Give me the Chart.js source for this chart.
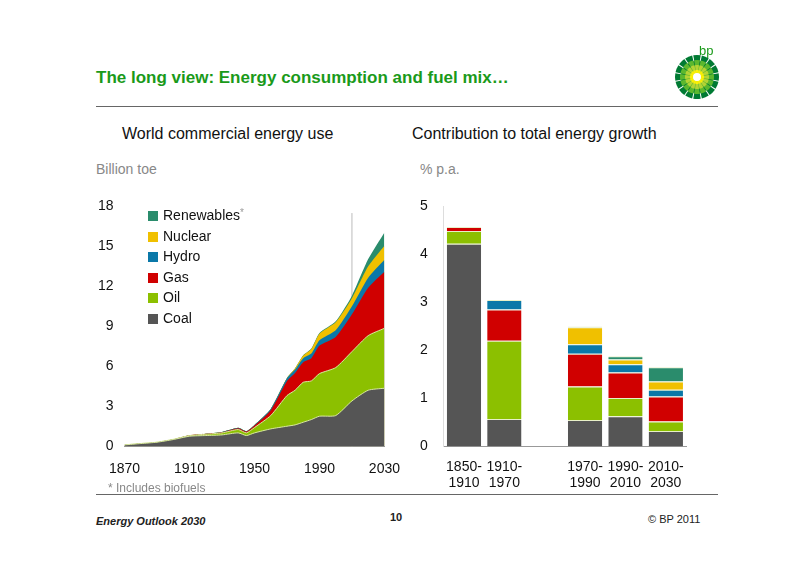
<!DOCTYPE html>
<html><head><meta charset="utf-8">
<script src="https://cdn.jsdelivr.net/npm/chart.js@4"></script>
<style>
body{margin:0;width:800px;height:566px;background:#fff;font-family:Arial,"Liberation Sans",sans-serif;position:relative;overflow:hidden}
.a{position:absolute;white-space:nowrap}
.lg{position:absolute;left:148px;top:203px;font-size:14px;line-height:20.5px;color:#111}
.lg span.b{display:inline-block;width:10px;height:10px;margin-right:5px;vertical-align:-1px}
</style></head><body>
<div class="a" style="left:96px;top:68px;font-size:17px;font-weight:bold;color:#1a9a1a">The long view: Energy consumption and fuel mix…</div>
<div class="a" style="left:96px;top:106px;width:622px;height:1px;background:#666"></div>
<canvas id="bp" width="50" height="50" class="a" style="left:672px;top:52px"></canvas>
<div class="a" style="left:699px;top:43px;font-size:13px;color:#1a9a1a">bp</div>
<div class="a" style="left:122px;top:125px;font-size:16px;color:#111">World commercial energy use</div>
<div class="a" style="left:412px;top:125px;font-size:16px;color:#111">Contribution to total energy growth</div>
<div class="a" style="left:96px;top:161px;font-size:14px;color:#888">Billion toe</div>
<div class="a" style="left:420px;top:161px;font-size:14px;color:#888">% p.a.</div>
<div class="a" style="left:95px;top:195px;width:312px;height:290px"><canvas id="left"></canvas></div>
<div class="a" style="left:412px;top:190px;width:300px;height:306px"><canvas id="right"></canvas></div>
<div class="lg" id="lg"></div>
<div class="a" style="left:108px;top:481px;font-size:12px;color:#888">* Includes biofuels</div>
<div class="a" style="left:96px;top:494px;width:622px;height:1px;background:#666"></div>
<div class="a" style="left:96px;top:515px;font-size:11px;font-style:italic;font-weight:bold;color:#222">Energy Outlook 2030</div>
<div class="a" style="left:390px;top:511px;font-size:11px;font-weight:bold;color:#222">10</div>
<div class="a" style="left:648px;top:513px;font-size:11px;color:#222">© BP 2011</div>
<script>
const fuels = ['Coal', 'Oil', 'Gas', 'Hydro', 'Nuclear', 'Renewables'];
const colors = ['#555555', '#8cc000', '#d00000', '#0a78a8', '#f0c000', '#2a8c6c'];

// World commercial energy use, billion toe (layer thickness)
const years = [1870,1880,1890,1900,1910,1920,1930,1940,1945,1950,1960,1970,1975,1980,1985,1990,2000,2010,2020,2030];
const coal  = [0.1,0.2,0.3,0.5,0.75,0.8,0.85,1.0,0.8,1.0,1.3,1.5,1.6,1.8,2.0,2.25,2.3,3.4,4.2,4.35];
const oil   = [0,0,0,0.02,0.05,0.1,0.15,0.25,0.2,0.4,1.0,2.3,2.6,3.0,2.9,3.2,3.6,3.7,4.1,4.5];
const gas   = [0,0,0,0,0.02,0.03,0.05,0.1,0.1,0.15,0.4,1.1,1.3,1.5,1.7,2.1,2.3,2.8,3.6,4.25];
const hydro = [0,0,0,0,0,0.01,0.02,0.03,0.03,0.05,0.1,0.2,0.25,0.3,0.35,0.4,0.5,0.6,0.75,0.9];
const nucl  = [0,0,0,0,0,0,0,0,0,0,0,0.02,0.1,0.2,0.35,0.5,0.6,0.6,0.85,1.05];
const renew = [0,0,0,0,0,0,0,0,0,0,0,0,0,0.02,0.03,0.05,0.08,0.2,0.55,1.0];
const areaSeries = [coal, oil, gas, hydro, nucl, renew];

// Contribution to total energy growth, % p.a.
const periods = [['1850-','1910'],['1910-','1970'],'',['1970-','1990'],['1990-','2010'],['2010-','2030']];
const gCoal  = [4.22,0.57,null,0.55,0.63,0.32];
const gOil   = [0.27,1.63,null,0.70,0.38,0.20];
const gGas   = [0.08,0.65,null,0.68,0.53,0.52];
const gHydro = [0,0.20,null,0.20,0.17,0.14];
const gNucl  = [0,0,null,0.35,0.10,0.17];
const gRenew = [0,0,null,0.02,0.07,0.30];
const barSeries = [gCoal, gOil, gGas, gHydro, gNucl, gRenew];

Chart.defaults.font.family = 'Arial, "Liberation Sans", sans-serif';
Chart.defaults.font.size = 14;
Chart.defaults.color = '#111';

// legend (top to bottom reversed)
document.getElementById('lg').innerHTML = fuels.map((f, i) => ({f, i})).reverse()
    .map(o => '<div><span class="b" style="background:' + colors[o.i] + '"></span>' + o.f + (o.f === 'Renewables' ? '<span style="color:#999;font-size:10px;vertical-align:4px">*</span>' : '') + '</div>').join('');

const vline = {
    id: 'vline',
    beforeDatasetsDraw(c) {
        const x = c.scales.x.getPixelForValue(2010), y = c.scales.y;
        c.ctx.save(); c.ctx.strokeStyle = '#bbb'; c.ctx.lineWidth = 1;
        c.ctx.beginPath(); c.ctx.moveTo(x, y.getPixelForValue(17.5)); c.ctx.lineTo(x, y.bottom); c.ctx.stroke(); c.ctx.restore();
    }
};

new Chart(document.getElementById('left'), {
    type: 'line',
    data: {
        datasets: areaSeries.map((s, i) => ({
            label: fuels[i], data: s.map((v, k) => ({x: years[k], y: v})),
            backgroundColor: colors[i], borderColor: i < 2 ? '#d8e8a0' : colors[i], borderWidth: i < 2 ? 1 : 0,
            fill: true, pointRadius: 0, tension: 0.2
        }))
    },
    options: {
        responsive: true, maintainAspectRatio: false, animation: false,
        layout: { padding: { top: 8, right: 8 } },
        plugins: { legend: { display: false }, tooltip: { enabled: false } },
        scales: {
            x: { type: 'linear', min: 1870, max: 2030, grid: { display: false }, border: { color: '#999' },
                 ticks: { stepSize: 40, padding: 7, callback: v => v } },
            y: { stacked: true, min: 0, max: 18, grid: { display: false }, border: { display: false },
                 ticks: { stepSize: 3 } }
        }
    },
    plugins: [vline]
});

new Chart(document.getElementById('right'), {
    type: 'bar',
    data: {
        labels: periods,
        datasets: barSeries.map((s, i) => ({
            label: fuels[i], data: s, backgroundColor: colors[i],
            borderColor: '#e8f0c8', borderWidth: { top: 1 }, borderSkipped: false,
            barPercentage: 0.85, categoryPercentage: 1
        }))
    },
    options: {
        responsive: true, maintainAspectRatio: false, animation: false,
        layout: { padding: { top: 8, right: 26 } },
        plugins: { legend: { display: false }, tooltip: { enabled: false } },
        scales: {
            x: { stacked: true, grid: { display: false }, border: { color: '#999' },
                 ticks: { padding: 4, maxRotation: 0, minRotation: 0, autoSkip: false } },
            y: { stacked: true, min: 0, max: 5, grid: { display: false }, border: { color: '#ddd' },
                 ticks: { stepSize: 1, padding: 8 } }
        }
    }
});

// bp helios mark
const b = document.getElementById('bp').getContext('2d');
const ring = ['#007a33', '#5cb82e', '#b5d334', '#fff200'];
ring.forEach((c, r) => {
    b.fillStyle = c;
    for (let k = 0; k < 16; k++) {
        const a = k * Math.PI / 8, R = 22 - r * 5;
        b.beginPath(); b.moveTo(25, 25);
        b.arc(25, 25, R, a - 0.17, a + 0.17); b.fill();
    }
    b.beginPath(); b.arc(25, 25, 16 - r * 4.5, 0, Math.PI * 2); b.fill();
});
b.fillStyle = '#fff'; b.beginPath(); b.arc(25, 25, 4, 0, Math.PI * 2); b.fill();
</script>
</body></html>
